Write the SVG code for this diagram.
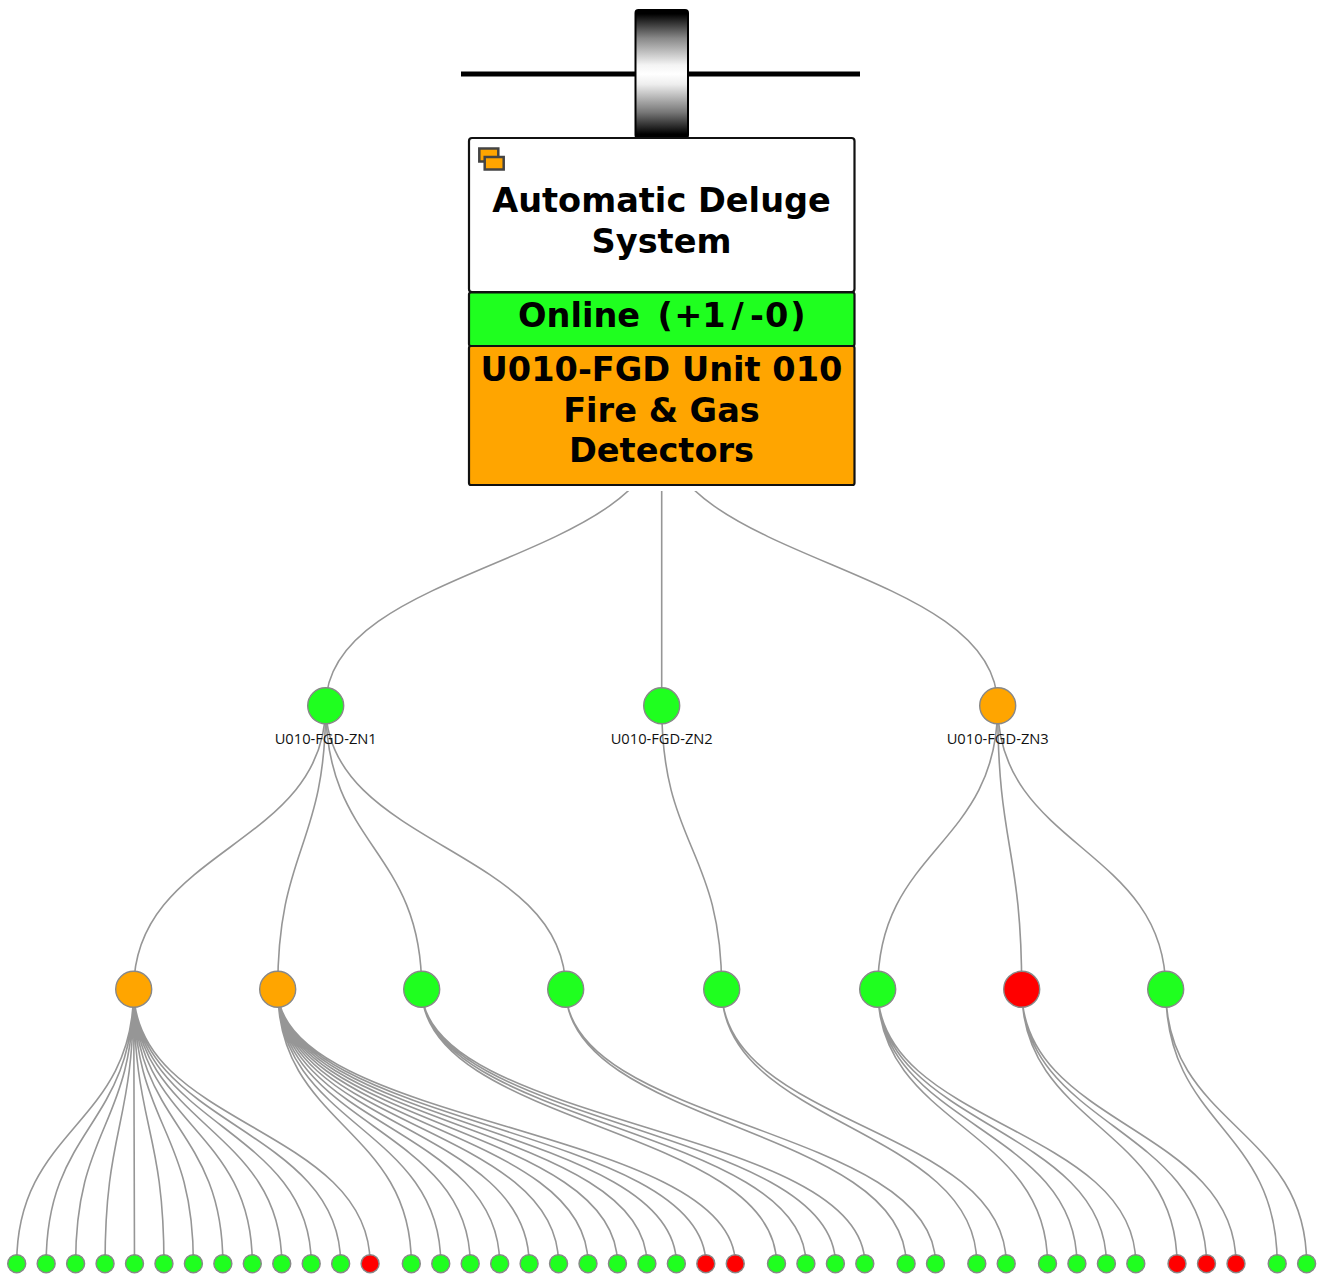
<svg xmlns="http://www.w3.org/2000/svg" width="1325" height="1275" viewBox="0 0 1325 1275">
<style>
.lk{fill:none;stroke:#969696;stroke-width:1.6}
.c{stroke:#888;stroke-width:1.4}
.g{fill:#1fff1f}.o{fill:#ffa500}.r{fill:#ff0000}
.box{stroke:#111;stroke-width:2.2}
.t{font-family:"DejaVu Sans",sans-serif;font-weight:700;font-size:33.6px;text-anchor:middle;fill:#000}
.s{text-anchor:start}
.l{font-family:"Open Sans",sans-serif;font-size:14.7px;text-anchor:middle;fill:#111}
.ic{fill:#ffa500;stroke:#444;stroke-width:2.5}
</style>
<defs>
<linearGradient id="bar" x1="0" y1="0" x2="0" y2="1"><stop offset="0.03" stop-color="#000"/><stop offset="0.22" stop-color="#888"/><stop offset="0.43" stop-color="#f4f4f4"/><stop offset="0.5" stop-color="#fff"/><stop offset="0.58" stop-color="#eee"/><stop offset="0.8" stop-color="#777"/><stop offset="0.97" stop-color="#000"/></linearGradient>
<clipPath id="below"><rect x="0" y="491" width="1325" height="300"/></clipPath>
</defs>
<rect width="1325" height="1275" fill="#fff"/>
<g id="connectors">
<g clip-path="url(#below)">
<path class="lk" d="M661.700 422C661.700 563.750 325.700 563.750 325.700 705.700"/>
<path class="lk" d="M661.700 422V705.700"/>
<path class="lk" d="M661.700 422C661.700 563.750 997.700 563.750 997.700 705.700"/>
</g>
<path class="lk" d="M325.700 705.700C325.700 847.500 133.700 847.500 133.700 989.300"/>
<path class="lk" d="M325.700 705.700C325.700 847.500 277.700 847.500 277.700 989.300"/>
<path class="lk" d="M325.700 705.700C325.700 847.500 421.700 847.500 421.700 989.300"/>
<path class="lk" d="M325.700 705.700C325.700 847.500 565.700 847.500 565.700 989.300"/>
<path class="lk" d="M661.700 705.700C661.700 847.500 721.700 847.500 721.700 989.300"/>
<path class="lk" d="M997.700 705.700C997.700 847.500 877.700 847.500 877.700 989.300"/>
<path class="lk" d="M997.700 705.700C997.700 847.500 1021.700 847.500 1021.700 989.300"/>
<path class="lk" d="M997.700 705.700C997.700 847.500 1165.700 847.500 1165.700 989.300"/>
<path class="lk" d="M133.700 989.300C133.700 1126.500 16.700 1126.500 16.700 1263.700M133.700 989.300C133.700 1126.500 46.150 1126.500 46.150 1263.700M133.700 989.300C133.700 1126.500 75.600 1126.500 75.600 1263.700M133.700 989.300C133.700 1126.500 105.050 1126.500 105.050 1263.700M133.700 989.300C133.700 1126.500 134.500 1126.500 134.500 1263.700M133.700 989.300C133.700 1126.500 163.950 1126.500 163.950 1263.700M133.700 989.300C133.700 1126.500 193.400 1126.500 193.400 1263.700M133.700 989.300C133.700 1126.500 222.850 1126.500 222.850 1263.700M133.700 989.300C133.700 1126.500 252.300 1126.500 252.300 1263.700M133.700 989.300C133.700 1126.500 281.750 1126.500 281.750 1263.700M133.700 989.300C133.700 1126.500 311.200 1126.500 311.200 1263.700M133.700 989.300C133.700 1126.500 340.650 1126.500 340.650 1263.700M133.700 989.300C133.700 1126.500 370.100 1126.500 370.100 1263.700"/>
<path class="lk" d="M277.700 989.300C277.700 1126.500 411.300 1126.500 411.300 1263.700M277.700 989.300C277.700 1126.500 440.750 1126.500 440.750 1263.700M277.700 989.300C277.700 1126.500 470.200 1126.500 470.200 1263.700M277.700 989.300C277.700 1126.500 499.650 1126.500 499.650 1263.700M277.700 989.300C277.700 1126.500 529.100 1126.500 529.100 1263.700M277.700 989.300C277.700 1126.500 558.550 1126.500 558.550 1263.700M277.700 989.300C277.700 1126.500 588 1126.500 588 1263.700M277.700 989.300C277.700 1126.500 617.450 1126.500 617.450 1263.700M277.700 989.300C277.700 1126.500 646.900 1126.500 646.900 1263.700M277.700 989.300C277.700 1126.500 676.350 1126.500 676.350 1263.700M277.700 989.300C277.700 1126.500 705.800 1126.500 705.800 1263.700M277.700 989.300C277.700 1126.500 735.250 1126.500 735.250 1263.700"/>
<path class="lk" d="M421.700 989.300C421.700 1126.500 776.500 1126.500 776.500 1263.700M421.700 989.300C421.700 1126.500 805.900 1126.500 805.900 1263.700M421.700 989.300C421.700 1126.500 835.400 1126.500 835.400 1263.700M421.700 989.300C421.700 1126.500 864.800 1126.500 864.800 1263.700"/>
<path class="lk" d="M565.700 989.300C565.700 1126.500 906.100 1126.500 906.100 1263.700M565.700 989.300C565.700 1126.500 935.500 1126.500 935.500 1263.700"/>
<path class="lk" d="M721.700 989.300C721.700 1126.500 976.800 1126.500 976.800 1263.700M721.700 989.300C721.700 1126.500 1006.200 1126.500 1006.200 1263.700"/>
<path class="lk" d="M877.700 989.300C877.700 1126.500 1047.500 1126.500 1047.500 1263.700M877.700 989.300C877.700 1126.500 1076.900 1126.500 1076.900 1263.700M877.700 989.300C877.700 1126.500 1106.400 1126.500 1106.400 1263.700M877.700 989.300C877.700 1126.500 1135.800 1126.500 1135.800 1263.700"/>
<path class="lk" d="M1021.700 989.300C1021.700 1126.500 1177 1126.500 1177 1263.700M1021.700 989.300C1021.700 1126.500 1206.500 1126.500 1206.500 1263.700M1021.700 989.300C1021.700 1126.500 1236 1126.500 1236 1263.700"/>
<path class="lk" d="M1165.700 989.300C1165.700 1126.500 1277.200 1126.500 1277.200 1263.700M1165.700 989.300C1165.700 1126.500 1306.600 1126.500 1306.600 1263.700"/>
</g>
<g id="root">
<rect x="461" y="71.500" width="399" height="5" fill="#000"/>
<rect x="635.500" y="10" width="52.500" height="128" rx="3" fill="url(#bar)" stroke="#000" stroke-width="2"/>
<rect class="box" x="469" y="138" width="385.500" height="154" rx="3" fill="#fff"/>
<rect class="box g" x="469" y="292.500" width="385.500" height="53.500" rx="2"/>
<rect class="box o" x="469" y="346" width="385.500" height="139" rx="2"/>
<rect class="ic" x="479.300" y="148.500" width="19" height="13"/>
<rect class="ic" x="484.700" y="157" width="19" height="12.500"/>
<text class="t" x="661.500" y="212">Automatic Deluge</text>
<text class="t" x="661.500" y="253">System</text>
<text class="t s" y="327"><tspan x="518">Online</tspan><tspan x="657.400 674.200 702.200 731.400 750 765 790.300">(+1/-0)</tspan></text>
<text class="t" x="661.500" y="381">U010-FGD Unit 010</text>
<text class="t" x="661.500" y="422">Fire &amp; Gas</text>
<text class="t" x="661.500" y="462">Detectors</text>
</g>
<g id="zn1"><circle class="c g" cx="325.700" cy="705.700" r="18"/><text class="l" x="325.700" y="744.300">U010-FGD-ZN1</text></g>
<g id="zn2"><circle class="c g" cx="661.700" cy="705.700" r="18"/><text class="l" x="661.700" y="744.300">U010-FGD-ZN2</text></g>
<g id="zn3"><circle class="c o" cx="997.700" cy="705.700" r="18"/><text class="l" x="997.700" y="744.300">U010-FGD-ZN3</text></g>
<g id="m1"><circle class="c o" cx="133.700" cy="989.300" r="18"/></g>
<g id="m2"><circle class="c o" cx="277.700" cy="989.300" r="18"/></g>
<g id="m3"><circle class="c g" cx="421.700" cy="989.300" r="18"/></g>
<g id="m4"><circle class="c g" cx="565.700" cy="989.300" r="18"/></g>
<g id="m5"><circle class="c g" cx="721.700" cy="989.300" r="18"/></g>
<g id="m6"><circle class="c g" cx="877.700" cy="989.300" r="18"/></g>
<g id="m7"><circle class="c r" cx="1021.700" cy="989.300" r="18"/></g>
<g id="m8"><circle class="c g" cx="1165.700" cy="989.300" r="18"/></g>
<g id="leaves">
<g id="a1"><circle class="c g" cx="16.700" cy="1263.700" r="9"/></g>
<g id="a2"><circle class="c g" cx="46.150" cy="1263.700" r="9"/></g>
<g id="a3"><circle class="c g" cx="75.600" cy="1263.700" r="9"/></g>
<g id="a4"><circle class="c g" cx="105.050" cy="1263.700" r="9"/></g>
<g id="a5"><circle class="c g" cx="134.500" cy="1263.700" r="9"/></g>
<g id="a6"><circle class="c g" cx="163.950" cy="1263.700" r="9"/></g>
<g id="a7"><circle class="c g" cx="193.400" cy="1263.700" r="9"/></g>
<g id="a8"><circle class="c g" cx="222.850" cy="1263.700" r="9"/></g>
<g id="a9"><circle class="c g" cx="252.300" cy="1263.700" r="9"/></g>
<g id="a10"><circle class="c g" cx="281.750" cy="1263.700" r="9"/></g>
<g id="a11"><circle class="c g" cx="311.200" cy="1263.700" r="9"/></g>
<g id="a12"><circle class="c g" cx="340.650" cy="1263.700" r="9"/></g>
<g id="a13"><circle class="c r" cx="370.100" cy="1263.700" r="9"/></g>
<g id="b1"><circle class="c g" cx="411.300" cy="1263.700" r="9"/></g>
<g id="b2"><circle class="c g" cx="440.750" cy="1263.700" r="9"/></g>
<g id="b3"><circle class="c g" cx="470.200" cy="1263.700" r="9"/></g>
<g id="b4"><circle class="c g" cx="499.650" cy="1263.700" r="9"/></g>
<g id="b5"><circle class="c g" cx="529.100" cy="1263.700" r="9"/></g>
<g id="b6"><circle class="c g" cx="558.550" cy="1263.700" r="9"/></g>
<g id="b7"><circle class="c g" cx="588" cy="1263.700" r="9"/></g>
<g id="b8"><circle class="c g" cx="617.450" cy="1263.700" r="9"/></g>
<g id="b9"><circle class="c g" cx="646.900" cy="1263.700" r="9"/></g>
<g id="b10"><circle class="c g" cx="676.350" cy="1263.700" r="9"/></g>
<g id="b11"><circle class="c r" cx="705.800" cy="1263.700" r="9"/></g>
<g id="b12"><circle class="c r" cx="735.250" cy="1263.700" r="9"/></g>
<g id="c1"><circle class="c g" cx="776.500" cy="1263.700" r="9"/></g>
<g id="c2"><circle class="c g" cx="805.900" cy="1263.700" r="9"/></g>
<g id="c3"><circle class="c g" cx="835.400" cy="1263.700" r="9"/></g>
<g id="c4"><circle class="c g" cx="864.800" cy="1263.700" r="9"/></g>
<g id="d1"><circle class="c g" cx="906.100" cy="1263.700" r="9"/></g>
<g id="d2"><circle class="c g" cx="935.500" cy="1263.700" r="9"/></g>
<g id="e1"><circle class="c g" cx="976.800" cy="1263.700" r="9"/></g>
<g id="e2"><circle class="c g" cx="1006.200" cy="1263.700" r="9"/></g>
<g id="f1"><circle class="c g" cx="1047.500" cy="1263.700" r="9"/></g>
<g id="f2"><circle class="c g" cx="1076.900" cy="1263.700" r="9"/></g>
<g id="f3"><circle class="c g" cx="1106.400" cy="1263.700" r="9"/></g>
<g id="f4"><circle class="c g" cx="1135.800" cy="1263.700" r="9"/></g>
<g id="h1"><circle class="c r" cx="1177" cy="1263.700" r="9"/></g>
<g id="h2"><circle class="c r" cx="1206.500" cy="1263.700" r="9"/></g>
<g id="h3"><circle class="c r" cx="1236" cy="1263.700" r="9"/></g>
<g id="k1"><circle class="c g" cx="1277.200" cy="1263.700" r="9"/></g>
<g id="k2"><circle class="c g" cx="1306.600" cy="1263.700" r="9"/></g>
</g>
</svg>
